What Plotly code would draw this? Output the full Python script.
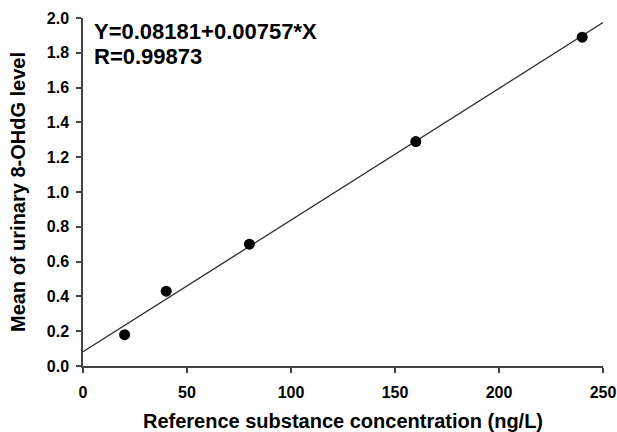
import plotly.graph_objects as go

conc = [20, 40, 80, 160, 240]
mean_level = [0.18, 0.43, 0.70, 1.29, 1.89]
fit_x = [0, 250]
fit_y = [0.0818, 1.974]
x_ticks = [0, 50, 100, 150, 200, 250]
y_ticks = [0.0, 0.2, 0.4, 0.6, 0.8, 1.0, 1.2, 1.4, 1.6, 1.8, 2.0]

FONT = "Liberation Sans, Arial, sans-serif"

fig = go.Figure()
fig.add_trace(go.Scatter(x=fit_x, y=fit_y, mode="lines",
                         line=dict(color="#2a2a2a", width=1.3), showlegend=False,
                         cliponaxis=False))
fig.add_trace(go.Scatter(x=conc, y=mean_level, mode="markers",
                         marker=dict(color="black", size=11), showlegend=False))

axis_common = dict(showline=True, linecolor="#444444", linewidth=1.5, ticks="outside",
                   ticklen=5, tickcolor="#444444", tickwidth=1.5, showgrid=False,
                   zeroline=False, mirror=False, ticklabeloverflow="allow",
                   automargin=False,
                   tickfont=dict(family=FONT, size=16, color="black", weight="bold"))

fig.update_xaxes(range=[0, 250], tickvals=x_ticks, ticktext=[str(v) for v in x_ticks],
                 ticklabelstandoff=6,
                 title=dict(text="Reference substance concentration (ng/L)",
                            font=dict(family=FONT, size=20, color="black", weight="bold"),
                            standoff=22),
                 **axis_common)
fig.update_yaxes(range=[0, 2.0], tickvals=y_ticks, ticktext=[f"{v:.1f}" for v in y_ticks],
                 ticklabelstandoff=4,
                 title=dict(text="Mean of urinary 8-OHdG level",
                            font=dict(family=FONT, size=20, color="black", weight="bold"),
                            standoff=16),
                 **axis_common)

fig.add_annotation(xref="paper", yref="paper", x=0.017, y=0.961, xanchor="left", yanchor="middle",
                   text="Y=0.08181+0.00757*X", showarrow=False,
                   font=dict(family=FONT, size=22, color="black", weight="bold"))
fig.add_annotation(xref="paper", yref="paper", x=0.017, y=0.889, xanchor="left", yanchor="middle",
                   text="R=0.99873", showarrow=False,
                   font=dict(family=FONT, size=22, color="black", weight="bold"))

fig.update_layout(width=617, height=432, margin=dict(l=83, r=14, t=18, b=66),
                  plot_bgcolor="white", paper_bgcolor="white")

fig.write_html("out.html")
